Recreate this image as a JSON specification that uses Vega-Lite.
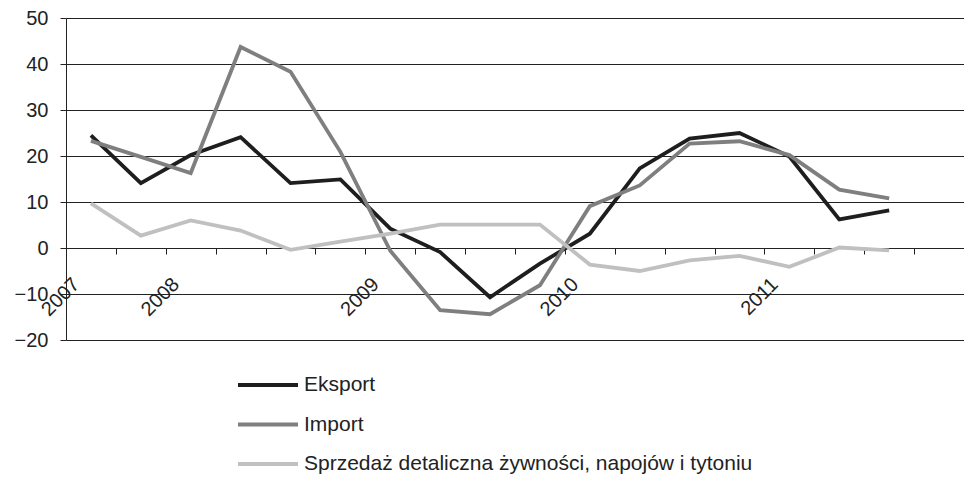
{
  "$schema": "https://vega.github.io/schema/vega-lite/v6.json",
  "autosize": {"type": "none"},
  "padding": {"left": 66, "top": 18, "right": 0, "bottom": 139},
  "width": 898,
  "height": 322,
  "background": "white",
  "config": {
    "view": {"stroke": null},
    "font": "Liberation Sans",
    "axis": {"labelFont": "Liberation Sans", "labelColor": "#222", "labelFontSize": 20, "domainColor": "#222", "tickColor": "#222", "gridColor": "#222", "gridOpacity": 1}
  },
  "data": {"values": [
    {"q": "2007Q3", "s": "Eksport", "v": 24.5},
    {"q": "2007Q4", "s": "Eksport", "v": 14.1},
    {"q": "2008Q1", "s": "Eksport", "v": 20.2},
    {"q": "2008Q2", "s": "Eksport", "v": 24.1},
    {"q": "2008Q3", "s": "Eksport", "v": 14.1},
    {"q": "2008Q4", "s": "Eksport", "v": 14.9},
    {"q": "2009Q1", "s": "Eksport", "v": 4.2},
    {"q": "2009Q2", "s": "Eksport", "v": -0.9},
    {"q": "2009Q3", "s": "Eksport", "v": -10.7},
    {"q": "2009Q4", "s": "Eksport", "v": -3.4},
    {"q": "2010Q1", "s": "Eksport", "v": 3.1},
    {"q": "2010Q2", "s": "Eksport", "v": 17.3},
    {"q": "2010Q3", "s": "Eksport", "v": 23.8},
    {"q": "2010Q4", "s": "Eksport", "v": 25.0},
    {"q": "2011Q1", "s": "Eksport", "v": 19.9},
    {"q": "2011Q2", "s": "Eksport", "v": 6.2},
    {"q": "2011Q3", "s": "Eksport", "v": 8.2},
    {"q": "2007Q3", "s": "Import", "v": 23.3},
    {"q": "2007Q4", "s": "Import", "v": 19.8},
    {"q": "2008Q1", "s": "Import", "v": 16.3},
    {"q": "2008Q2", "s": "Import", "v": 43.7},
    {"q": "2008Q3", "s": "Import", "v": 38.3},
    {"q": "2008Q4", "s": "Import", "v": 20.9},
    {"q": "2009Q1", "s": "Import", "v": -0.6},
    {"q": "2009Q2", "s": "Import", "v": -13.5},
    {"q": "2009Q3", "s": "Import", "v": -14.4},
    {"q": "2009Q4", "s": "Import", "v": -8.1},
    {"q": "2010Q1", "s": "Import", "v": 9.1},
    {"q": "2010Q2", "s": "Import", "v": 13.6},
    {"q": "2010Q3", "s": "Import", "v": 22.7},
    {"q": "2010Q4", "s": "Import", "v": 23.2},
    {"q": "2011Q1", "s": "Import", "v": 20.2},
    {"q": "2011Q2", "s": "Import", "v": 12.7},
    {"q": "2011Q3", "s": "Import", "v": 10.8},
    {"q": "2007Q3", "s": "Sprzedaż detaliczna żywności, napojów i tytoniu", "v": 9.7},
    {"q": "2007Q4", "s": "Sprzedaż detaliczna żywności, napojów i tytoniu", "v": 2.7},
    {"q": "2008Q1", "s": "Sprzedaż detaliczna żywności, napojów i tytoniu", "v": 6.0},
    {"q": "2008Q2", "s": "Sprzedaż detaliczna żywności, napojów i tytoniu", "v": 3.8},
    {"q": "2008Q3", "s": "Sprzedaż detaliczna żywności, napojów i tytoniu", "v": -0.4},
    {"q": "2008Q4", "s": "Sprzedaż detaliczna żywności, napojów i tytoniu", "v": 1.4},
    {"q": "2009Q1", "s": "Sprzedaż detaliczna żywności, napojów i tytoniu", "v": 3.1},
    {"q": "2009Q2", "s": "Sprzedaż detaliczna żywności, napojów i tytoniu", "v": 5.1},
    {"q": "2009Q3", "s": "Sprzedaż detaliczna żywności, napojów i tytoniu", "v": 5.1},
    {"q": "2009Q4", "s": "Sprzedaż detaliczna żywności, napojów i tytoniu", "v": 5.1},
    {"q": "2010Q1", "s": "Sprzedaż detaliczna żywności, napojów i tytoniu", "v": -3.6},
    {"q": "2010Q2", "s": "Sprzedaż detaliczna żywności, napojów i tytoniu", "v": -5.0},
    {"q": "2010Q3", "s": "Sprzedaż detaliczna żywności, napojów i tytoniu", "v": -2.7},
    {"q": "2010Q4", "s": "Sprzedaż detaliczna żywności, napojów i tytoniu", "v": -1.7},
    {"q": "2011Q1", "s": "Sprzedaż detaliczna żywności, napojów i tytoniu", "v": -4.1},
    {"q": "2011Q2", "s": "Sprzedaż detaliczna żywności, napojów i tytoniu", "v": 0.1},
    {"q": "2011Q3", "s": "Sprzedaż detaliczna żywności, napojów i tytoniu", "v": -0.5}
  ]},
  "mark": {"type": "line", "strokeWidth": 3.8, "strokeJoin": "miter"},
  "encoding": {
    "x": {
      "field": "q", "type": "ordinal", "bandPosition": 0.5,
      "scale": {"type": "band", "paddingInner": 0, "paddingOuter": 0,
        "domain": ["2007Q3","2007Q4","2008Q1","2008Q2","2008Q3","2008Q4","2009Q1","2009Q2","2009Q3","2009Q4","2010Q1","2010Q2","2010Q3","2010Q4","2011Q1","2011Q2","2011Q3","2011Q4"]},
      "axis": {
        "title": null, "offset": -92, "tickBand": "extent", "tickSize": 6, "grid": false,
        "labelAngle": -45, "labelAlign": "right", "labelBaseline": "middle",
        "labelPadding": 27, "labelOffset": -15, "labelOverlap": false, "labelBound": false,
        "labelExpr": "datum.value == '2007Q3' ? '2007' : (substring(datum.value, 4) == 'Q1' ? substring(datum.value, 0, 4) : '')"
      }
    },
    "y": {
      "field": "v", "type": "quantitative",
      "scale": {"domain": [-20, 50], "nice": false, "zero": false},
      "axis": {"title": null, "values": [-20, -10, 0, 10, 20, 30, 40, 50], "tickSize": 6, "labelPadding": 12, "grid": true, "gridWidth": 1}
    },
    "color": {
      "field": "s", "type": "nominal",
      "scale": {"domain": ["Eksport", "Import", "Sprzedaż detaliczna żywności, napojów i tytoniu"], "range": ["#1e1e1e", "#7f7f7f", "#c0c0c0"]},
      "legend": {
        "title": null, "orient": "none", "legendX": 185, "legendY": 350, "padding": 0,
        "symbolType": "M-2,0H2", "symbolSize": 900, "symbolStrokeWidth": 4,
        "labelFont": "Liberation Sans", "labelFontSize": 21, "labelColor": "#222", "labelOffset": 19,
        "rowPadding": 12.5, "labelLimit": 700
      }
    }
  }
}
